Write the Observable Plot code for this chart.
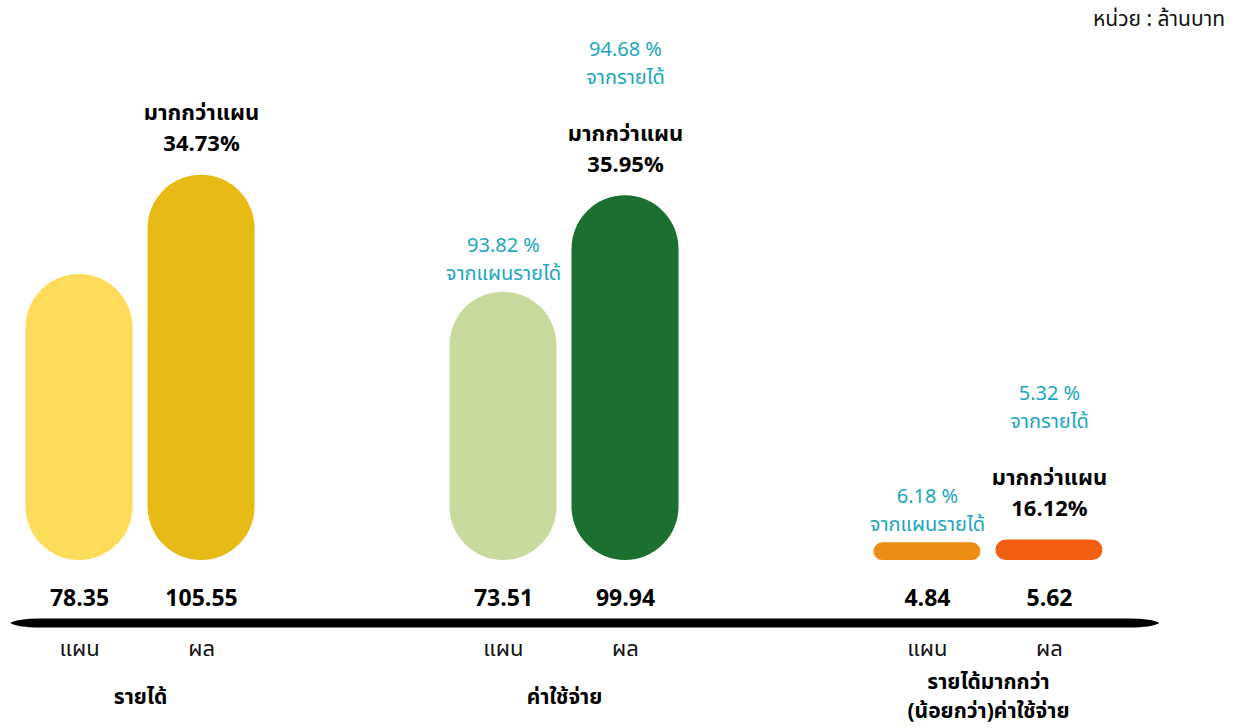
<!DOCTYPE html>
<html><head><meta charset="utf-8">
<script src="https://cdn.jsdelivr.net/npm/d3@7"></script>
<script src="https://cdn.jsdelivr.net/npm/@observablehq/plot@0.6"></script>
<style>
body{margin:0;background:#fff;font-family:"Noto Sans Thai","Noto Sans",Roboto,sans-serif;}
#wrap{position:relative;width:1238px;height:728px;overflow:hidden;}
#unit{position:absolute;right:13px;top:6px;font-size:21px;color:#111;line-height:28px;}
#chart{position:absolute;left:0;top:0;}
</style></head><body>
<div id="wrap"><div id="chart"></div><div id="unit">หน่วย : ล้านบาท</div></div>
<script>
// ---- data ----
const groups = ["รายได้", "ค่าใช้จ่าย", "รายได้มากกว่า\n(น้อยกว่า)ค่าใช้จ่าย"];
const types = ["แผน", "ผล"];
const planValues = [78.35, 73.51, 4.84];
const actualValues = [105.55, 99.94, 5.62];
const overPlanPct = ["34.73%", "35.95%", "16.12%"];
const shareOfRevenueActual = [null, "94.68 %", "5.32 %"];
const shareOfRevenuePlan = [null, "93.82 %", "6.18 %"];
const planColors = ["#FDDC5B", "#C9DA9F", "#EE8D14"];
const actualColors = ["#E8BA15", "#1C6F2E", "#F35F12"];

// ---- table ----
const rows = [];
groups.forEach((g, i) => {
  rows.push({group: g, type: types[0], value: planValues[i], color: planColors[i],
    share: shareOfRevenuePlan[i] ? shareOfRevenuePlan[i] + "\nจากแผนรายได้" : null});
  rows.push({group: g, type: types[1], value: actualValues[i], color: actualColors[i],
    over: "มากกว่าแผน\n" + overPlanPct[i],
    share: shareOfRevenueActual[i] ? shareOfRevenueActual[i] + "\nจากรายได้" : null});
});
const planRows = rows.filter(d => d.type === types[0]);
const actualRows = rows.filter(d => d.type === types[1]);
const groupRows = groups.map(g => ({group: g}));
const fmt = d3.format(".2f");
const cyan = "#1AA6BF";
const FONT = '"Noto Sans Thai","Noto Sans",Roboto,sans-serif';

const chart = Plot.plot({
  width: 1238, height: 728,
  marginTop: 122, marginBottom: 168, marginLeft: 10.5, marginRight: 120.5,
  style: {fontFamily: FONT, background: "transparent", overflow: "visible"},
  fx: {domain: groups, paddingInner: 0.389, paddingOuter: 0, round: false, axis: null, label: null},
  x: {domain: types, padding: 0.123, round: false, axis: null},
  y: {domain: [0, 120], axis: null},
  color: {type: "identity"},
  marks: [
    Plot.barY(rows, {fx: "group", x: "type", y: "value", fill: "color", r: 60}),
    Plot.text(rows, {fx: "group", x: "type", y: 0, text: d => fmt(d.value), dy: 38,
      fontSize: 23, fontWeight: "bold", fill: "#000"}),
    Plot.text(rows, {fx: "group", x: "type", y: 0, text: "type", dy: 88, fontSize: 22, fill: "#111"}),
    Plot.text(groupRows, {fx: "group", text: "group", frameAnchor: "bottom", dy: 134,
      lineAnchor: "middle", lineHeight: 1.36, fontSize: 21, fontWeight: "bold", fill: "#000"}),
    Plot.text(actualRows, {fx: "group", x: "type", y: "value", text: "over", dy: -24,
      lineAnchor: "bottom", lineHeight: 1.4, fontSize: 22, fontWeight: "bold", fill: "#000"}),
    Plot.text(actualRows.filter(d => d.share), {fx: "group", x: "type", y: "value", text: "share", dy: -112,
      lineAnchor: "bottom", lineHeight: 1.4, fontSize: 20, fill: cyan}),
    Plot.text(planRows.filter(d => d.share), {fx: "group", x: "type", y: "value", text: "share", dy: -12,
      lineAnchor: "bottom", lineHeight: 1.4, fontSize: 20, fill: cyan})
  ]
});
document.getElementById("chart").appendChild(chart);

// decorative baseline (tapered) below the value labels
const svg = d3.select(chart);
const y0 = chart.scale("y").apply(0) + 63;
const fxr = chart.scale("fx").range;
const x0 = fxr[0] - 0.5, x1 = fxr[1] + 42, h = 4.5;
svg.append("path")
  .attr("d", `M${x0},${y0} Q${x0+8},${y0-h} ${x0+30},${y0-h} L${x1-30},${y0-h} Q${x1-8},${y0-h} ${x1},${y0} Q${x1-8},${y0+h} ${x1-30},${y0+h} L${x0+30},${y0+h} Q${x0+8},${y0+h} ${x0},${y0} Z`)
  .attr("fill", "#000");
</script>
</body></html>
